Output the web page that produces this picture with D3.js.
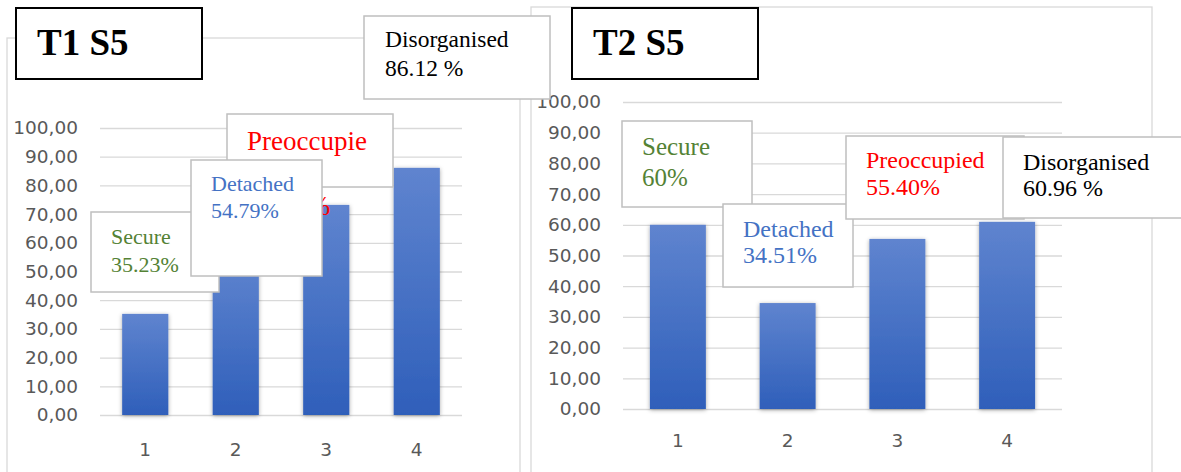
<!DOCTYPE html>
<html>
<head>
<meta charset="utf-8">
<script src="https://cdn.jsdelivr.net/npm/d3@7"></script>
<style>
  body { margin: 0; background: #fff; }
  .tick text { font-family: "DejaVu Sans", sans-serif; fill: #595959; }
  .lbl { font-family: "Liberation Serif", "Times New Roman", serif; }
</style>
</head>
<body>
<svg id="chart" width="1181" height="472"></svg>
<script>
// data
const categories = ["1", "2", "3", "4"];
const attachmentTypes = ["Secure", "Detached", "Preoccupied", "Disorganised"];
const t1Values = [35.23, 54.79, 73.20, 86.12];
const t2Values = [60.00, 34.51, 55.40, 60.96];
const t1Labels = ["35.23%", "54.79%", "73.20%", "86.12 %"];
const t2Labels = ["60%", "34.51%", "55.40%", "60.96 %"];
const yTicks = [0, 10, 20, 30, 40, 50, 60, 70, 80, 90, 100];
const labelColors = ["#548235", "#4472c4", "#ff0000", "#000000"];

const svg = d3.select("#chart");
const defs = svg.append("defs");

const grad = defs.append("linearGradient")
  .attr("id", "barGrad").attr("x1", 0).attr("y1", 0).attr("x2", 0).attr("y2", 1);
grad.append("stop").attr("offset", "0%").attr("stop-color", "#5f84cf");
grad.append("stop").attr("offset", "100%").attr("stop-color", "#2f5fba");

defs.append("filter").attr("id", "shadow")
  .attr("x", "-30%").attr("y", "-10%").attr("width", "160%").attr("height", "120%")
  .append("feDropShadow")
  .attr("dx", 0).attr("dy", 1).attr("stdDeviation", 2.2)
  .attr("flood-color", "#000").attr("flood-opacity", 0.35);

const fmt = v => d3.format(".2f")(v).replace(".", ",");

const panels = [
  {
    values: t1Values, labels: t1Labels, title: "T1 S5",
    frame: {x: 7, y: 38, w: 513, h: 460},
    plot: {left: 100, right: 462, bottom: 415, top: 128},
    tickPad: 22, xLabelDy: 41, fontY: 18.5,
    titleBox: {x: 16, y: 8, w: 186, h: 71, tx: 37, ty: 55},
    boxes: [
      {x: 91, y: 212, w: 128, h: 80, tx: 111, base: [244, 272], size: 22},
      {x: 191, y: 160, w: 131, h: 116, tx: 211, base: [191, 218], size: 22},
      // name is cut off in the original box, value line sits mostly under the Detached box
      {x: 227, y: 114, w: 166, h: 73, tx: 247, base: [150, 215], size: 27, cut: 10},
      {x: 364, y: 16, w: 186, h: 83, tx: 385, base: [47, 76], size: 23.5}
    ]
  },
  {
    values: t2Values, labels: t2Labels, title: "T2 S5",
    frame: {x: 531, y: 7, w: 621, h: 490},
    plot: {left: 623, right: 1062, bottom: 409, top: 102},
    tickPad: 22, xLabelDy: 38, fontY: 18.5,
    titleBox: {x: 572, y: 8, w: 186, h: 71, tx: 593, ty: 55},
    boxes: [
      {x: 622, y: 121, w: 130, h: 86, tx: 642, base: [155, 186], size: 25},
      {x: 723, y: 204, w: 130, h: 83, tx: 743, base: [237, 263], size: 24},
      {x: 846, y: 136, w: 178, h: 83, tx: 866, base: [168, 195], size: 24},
      {x: 1003, y: 137, w: 190, h: 81, tx: 1023, base: [170, 196], size: 24}
    ]
  }
];

// frames, grid, bars
panels.forEach(p => {
  svg.append("rect")
    .attr("x", p.frame.x).attr("y", p.frame.y)
    .attr("width", p.frame.w).attr("height", p.frame.h)
    .attr("fill", "none").attr("stroke", "#d9d9d9").attr("stroke-width", 1.3);

  const x = d3.scaleBand().domain(categories)
    .range([p.plot.left, p.plot.right]).paddingInner(0.49).paddingOuter(0.245);
  const y = d3.scaleLinear().domain([0, 100]).range([p.plot.bottom, p.plot.top]);

  const yAxis = svg.append("g")
    .attr("transform", `translate(${p.plot.left},0)`)
    .call(d3.axisLeft(y).tickValues(yTicks).tickFormat(fmt)
      .tickSizeInner(-(p.plot.right - p.plot.left)).tickSizeOuter(0).tickPadding(p.tickPad));
  yAxis.select(".domain").remove();
  yAxis.selectAll(".tick line").attr("stroke", "#d9d9d9").attr("stroke-width", 1.3);
  yAxis.selectAll(".tick text").attr("font-size", p.fontY);

  const xAxis = svg.append("g")
    .attr("transform", `translate(0,${p.plot.bottom})`)
    .call(d3.axisBottom(x).tickSize(0).tickPadding(0));
  xAxis.select(".domain").remove();
  xAxis.selectAll(".tick text")
    .attr("font-size", p.fontY).attr("dy", p.xLabelDy).attr("y", 0);

  svg.append("g").selectAll("rect")
    .data(p.values)
    .join("rect")
    .attr("x", (d, i) => x(categories[i]))
    .attr("y", d => y(d))
    .attr("width", x.bandwidth())
    .attr("height", d => y(0) - y(d))
    .attr("fill", "url(#barGrad)")
    .attr("filter", "url(#shadow)");
});

// label boxes
function drawBox(p, i) {
  const b = p.boxes[i];
  const g = svg.append("g");
  g.append("rect")
    .attr("x", b.x).attr("y", b.y).attr("width", b.w).attr("height", b.h)
    .attr("fill", "#fff").attr("stroke", "#bfbfbf").attr("stroke-width", 1.5);
  const name = attachmentTypes[i];
  const lines = [b.cut ? name.slice(0, b.cut) : name, p.labels[i]];
  g.selectAll("text").data(lines).join("text")
    .attr("class", "lbl")
    .attr("x", b.tx).attr("y", (d, k) => b.base[k])
    .attr("font-size", b.size).attr("fill", labelColors[i])
    .text(d => d);
}

function drawTitle(p) {
  const t = p.titleBox;
  svg.append("rect")
    .attr("x", t.x).attr("y", t.y).attr("width", t.w).attr("height", t.h)
    .attr("fill", "#fff").attr("stroke", "#000").attr("stroke-width", 2);
  svg.append("text").attr("class", "lbl")
    .attr("x", t.tx).attr("y", t.ty)
    .attr("font-size", 37).attr("font-weight", "bold").attr("fill", "#000")
    .text(p.title);
}

const [p1, p2] = panels;
drawBox(p1, 0);
drawBox(p1, 2);
drawBox(p1, 1);
drawBox(p2, 0);
drawBox(p2, 1);
drawBox(p2, 2);
drawBox(p2, 3);
drawTitle(p1);
drawTitle(p2);
drawBox(p1, 3);
</script>
</body>
</html>
